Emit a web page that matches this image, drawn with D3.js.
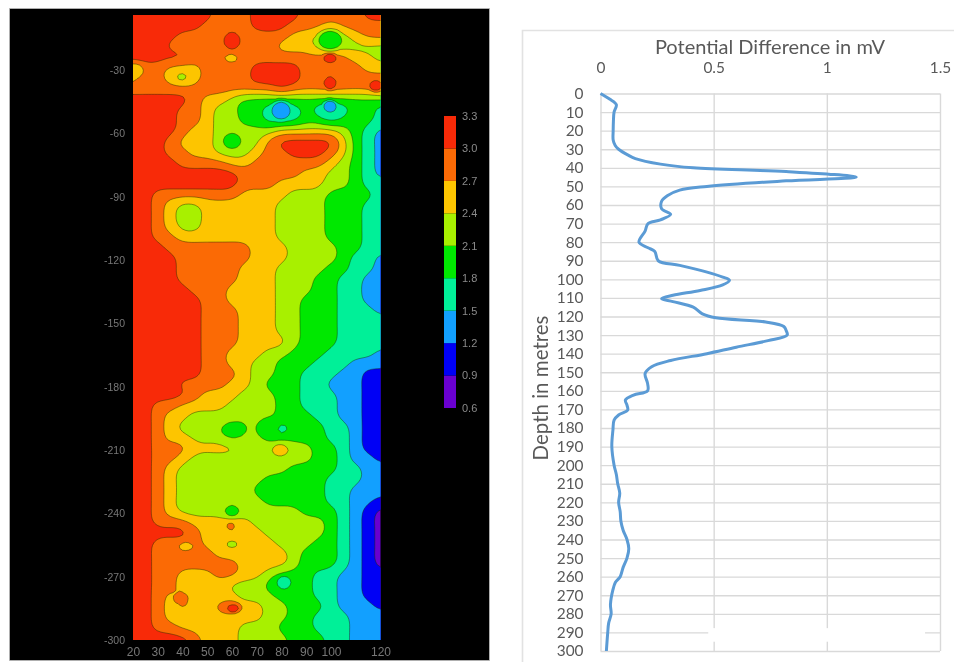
<!DOCTYPE html>
<html><head><meta charset="utf-8">
<script src="https://cdn.jsdelivr.net/npm/d3@7"></script>
<style>html,body{margin:0;background:#fff}svg{display:block;filter:blur(.55px)}</style>
</head><body><svg id="c" width="954" height="662"></svg>
<script>
// Contour map: legend bands and the band read at each (x = 20,25..120; depth = -4,-9,-14..) node
const levels = [0.6,0.9,1.2,1.5,1.8,2.1,2.4,2.7,3.0,3.3];
const bandColors = ["#6a00d0","#0000f5","#12a0ff","#00f098","#00e800","#a8f000","#fdc500","#fb6a05","#f82a08"];
const bandKeys = "PDBSGLYOR";
const bandRows = [
"RRRRRRROOORRRROOOOORR","RRRRRROOOORRROOOYOOOO","RRRROOOOROOOOYYLGLYOO","RRROOOOOROOOYYYLGLLLL",
"RRRRROOOYOOOOOOOROYYL","YOOYYYOOOORRRROOOOOYY","YOOYLYOOOORRRROOROOOO","OOOOOOOOOOOOROOOOOOOR",
"RRRRROYYLGGGGGGGGGGGG","RRRROOYLLGGSBSGSBSGGS","RRRROOYLLGGSSSGGSGGGS","RRRROYYLLLLLYYYYYLGSB",
"RRROYYYLGLLORRRRRYGSB","RRROOYYLLLYOORRROYGSB","RRRROOOOYYOOOOOOYLGSB","RRRRRRRRROOOOOYYLLGSB",
"RRRRRRRRROOOYYYYLLGSS","RROOOOOOOYYYYLLLGGGGS","RROYLLYYYYYYLLLLGGGSS","RROYLLYYYYYYLLLLGGGSS",
"RROYLLYYYYYYLLLLGGGSS","RROOYYYYYYYYLLLLGGGSS","RRROOOOOOOYYYLLLLGGSS","RRRROOOOOOYYYLLLLGSSB",
"RRRROOOOOYYYLLLLGGSSB","RRRROOOOOYYYLLLGGSSBB","RRRRROOOYYYYLLLGGSSBB","RRRRRROOYYYYLLGGGSSBB",
"RRRRRROOOYYYLLGGGSSSB","RRRRRROOOYYYLLGGGSSSS","RRRRRROOOYYYLLGGGSSSS","RRRRRROOOYYYYLGGGSSSS",
"RRRRRROOYYYLLGGGSSSSB","RRRRRROOYYLLGGGSSSBBB","RRRRRROOOYLLGGSSSBBDD","RRRROOOOYYLGGGSSBBBDD",
"RRRRROYYYLLLGGSSSBBDD","RROOYYYYLLLLGGSSSBBDD","RROYYLLLLLLLGGGSSBBDD","RROYLLLLGGLGSGGGSSBDD",
"RROYYLLLGLLGGGGGSSBDD","RROOOYYYYLLLYLLGGSBDD","RROOYLLLLLLLLLLGGSBBD","RROYLLLLLLLLLGGGGSSBB",
"RROYLLLLLLLGGGGGSSSBB","RROYLLLLLLGGGGGGSSBBB","RROYLLLLLLLGGGGGSSBBD","RROYLLLLGLLLLLGGGSBDP",
"RROOOYYYYYLLLLLLGSBDP","RRRRROYYOYYLLLLLGSBDP","RROOOOYYLYYYLLLGGSBDP","RROOYOOYYYYYYLGGGSBDP",
"RROOOOOOOYYYYLGGGSBDP","RROOYYYOOYYLGGGSSBBDD","RROOYYYYLLLGSGGSSBBDD","RROYOYYYYLLLGGGSSBBDD",
"RROYOYYYYYYLLGGGSBBBD","RROYYYYYYYYLLGGSSSBBB","RROOYYYYYLLLGGGSSSBBB","RRRRROYYYLLLLGGGSSBBB",
"RRRRROYYYLLLLGGGSSBBB"];
// Isolated closed anomalies on the map (centre in map units, band, half-extent in map units)
const spotX     = [60,59.6,99.6,99.6,99.6,118,39.8,79.8,99.6,60,75.4,80.2,60.4,79.4,60,59.6,60,41.4,81,59.2,60.4,39,20.5];
const spotDepth = [-16.3,-24.3,-15.8,-24.3,-36.6,-37.5,-33.3,-49,-47,-63.6,-199.7,-200,-200.6,-210,-239,-246,-254.6,-255.6,-272.6,-284.5,-285,-280,-30];
const spotBand  = ["R","Y","G","R","R","R","L","B","B","G","G","S","G","Y","G","O","L","Y","S","O","R","O","Y"];
const spotRX    = [2.6,2.2,4.6,2.6,2.2,2.4,1.4,3.6,2.6,3.3,5.2,1.5,4.2,3,2.6,1.4,1.5,2.6,2.6,5,2.2,2.2,3.5];
const spotRY    = [3.5,1.6,4.5,2,2.6,2.4,1.5,4.3,2.7,3.3,4.8,1.6,3,2.6,2.4,1.6,1.5,1.8,2.8,3.2,1.8,2,3];
const mapXTicks = [20,30,40,50,60,70,80,90,100,120];
const mapDepthTicks = [-30,-60,-90,-120,-150,-180,-210,-240,-270,-300];
const legendTicks = [3.3,3.0,2.7,2.4,2.1,1.8,1.5,1.2,0.9,0.6];

// Potential difference profile
const depth = [0,3,6,10,15,20,25,28,30,33,35,38,40,42,45,47,50,52,55,58,62,65,68,70,74,80,83,85,90,92.5,96,98.8,100.5,103,106,108.6,110.4,112,115,118.6,120.7,123,125.4,127.5,130,133,136.5,140,143.7,147,150.7,156,160,162.3,165,167.7,170.4,173,175.8,181,190,200,205,210,215,220,225,230,235,240,245,250,255,260,263,267,275,280,285,290,300];
const potential = [0,.04,.07,.06,.057,.056,.056,.065,.08,.12,.154,.265,.41,.82,1.13,.82,.47,.35,.295,.27,.27,.31,.265,.21,.197,.17,.21,.24,.255,.35,.467,.54,.57,.54,.44,.32,.27,.32,.41,.45,.51,.73,.81,.82,.825,.74,.6,.47,.31,.226,.197,.208,.208,.146,.11,.117,.12,.08,.06,.055,.05,.06,.07,.076,.085,.08,.087,.09,.10,.117,.125,.117,.10,.087,.066,.055,.044,.047,.036,.032,.026];
const xTicks = [0,0.5,1,1.5];
const yTicks = d3.range(0,301,10);

const svg = d3.select("#c");
svg.append("rect").attr("width",954).attr("height",662).attr("fill","#fff");

// ---- left panel
svg.append("rect").attr("x",9.5).attr("y",8.5).attr("width",480).attr("height",652).attr("fill","#000").attr("stroke","#bbb").attr("stroke-width",.8);
const mx = d3.scaleLinear([20,120],[133,380.5]);
const my = d3.scaleLinear([0,-300],[6.7,640]);
const k = 4, nr = bandRows.length, nc = bandRows[0].length;
const bandValue = ch => (levels[bandKeys.indexOf(ch)] + levels[bandKeys.indexOf(ch)+1]) / 2;
const grid = bandRows.map(r => Array.from(r, bandValue));
const cr = (a,b,c,d,t) => .5*((2*b)+(c-a)*t+(2*a-5*b+4*c-d)*t*t+(3*b-a-3*c+d)*t*t*t);
const at = (r,c) => grid[Math.max(0,Math.min(nr-1,r))][Math.max(0,Math.min(nc-1,c))];
const W = (nc-1)*k+1, H = (nr-1)*k+1, field = new Float64Array(W*H);
for (let j=0;j<H;j++) for (let i=0;i<W;i++) {
  const rf=j/k, cf=i/k, r0=Math.floor(rf), c0=Math.floor(cf), tr=rf-r0, tc=cf-c0;
  const col = [-1,0,1,2].map(d => cr(at(r0+d,c0-1),at(r0+d,c0),at(r0+d,c0+1),at(r0+d,c0+2),tc));
  field[j*W+i] = cr(col[0],col[1],col[2],col[3],tr);
}
d3.blur2({data:field,width:W},1.5);
spotX.forEach((sx,s)=>{
  const lvl = bandValue(spotBand[s]);
  for (let j=0;j<H;j++) for (let i=0;i<W;i++) {
    const ux = 20+i/k*5, ud = -4-j/k*5;
    const dist = Math.hypot((ux-sx)/spotRX[s],(ud-spotDepth[s])/spotRY[s]);
    const w = Math.max(0,Math.min(1,(1.3-dist)/.6));
    if (w>0) field[j*W+i] += (lvl-field[j*W+i])*w;
  }
});
const contourSets = d3.contours().size([W,H]).thresholds(levels.slice(0,-1))(field);
const proj = d3.geoTransform({point(x,y){
  this.stream.point(mx(20+(x-.5)/k*5), my(-4-(y-.5)/k*5));
}});
svg.append("clipPath").attr("id","plot").append("rect")
  .attr("x",mx(20)).attr("y",my(-3.9)).attr("width",mx(120)-mx(20)).attr("height",my(-300)-my(-3.9));
const mapG = svg.append("g").attr("clip-path","url(#plot)");
mapG.selectAll("path").data(contourSets).join("path")
  .attr("d",d3.geoPath(proj)).attr("fill",(d,i)=>bandColors[i])
  .attr("stroke","#1a2a00").attr("stroke-opacity",.55).attr("stroke-width",.8);

const axM = svg.append("g").attr("transform",`translate(0,${my(-300)})`)
  .call(d3.axisBottom(mx).tickValues(mapXTicks).tickSize(0).tickPadding(7).tickFormat(d=>d));
const ayM = svg.append("g").attr("transform",`translate(${mx(20)},0)`)
  .call(d3.axisLeft(my).tickValues(mapDepthTicks).tickSize(0).tickPadding(8).tickFormat(d=>d));
[axM,ayM].forEach(a=>{a.select(".domain").remove();
  a.selectAll("text").attr("fill","#777").attr("font-family","Liberation Sans");});
axM.selectAll("text").attr("font-size",12);
ayM.selectAll("text").attr("font-size",10.5);

// legend
const ly = d3.scaleLinear([0.6,3.3],[408,116]);
const lg = svg.append("g");
lg.selectAll("rect").data(bandColors).join("rect")
  .attr("x",444).attr("width",12).attr("y",(d,i)=>ly(levels[i+1])).attr("height",(d,i)=>ly(levels[i])-ly(levels[i+1]))
  .attr("fill",d=>d);
lg.selectAll("text").data(legendTicks).join("text")
  .attr("x",462).attr("y",d=>ly(d)).attr("dy","0.35em").attr("fill","#8a8a8a")
  .attr("font-family","Liberation Sans").attr("font-size",11).text(d=>d.toFixed(1));

// ---- right panel
svg.append("path").attr("d","M522.5,662V30.5H954").attr("fill","none").attr("stroke","#e2e2e2").attr("stroke-width",1.6);
const x = d3.scaleLinear([0,1.5],[600.5,940]);
const y = d3.scaleLinear([0,300],[93.5,651]);
const gridC = "#d9d9d9", txt = "#595959", font = "Lato";
const ax = svg.append("g").attr("transform",`translate(0,${y(0)})`)
  .call(d3.axisTop(x).tickValues(xTicks).tickSize(-(y(300)-y(0))).tickPadding(21).tickFormat(d=>d));
const ay = svg.append("g").attr("transform",`translate(${x(0)},0)`)
  .call(d3.axisLeft(y).tickValues(yTicks).tickSize(-(x(1.5)-x(0))).tickPadding(17).tickFormat(d=>d));
[ax,ay].forEach(a=>{a.select(".domain").remove();
  a.selectAll("line").attr("stroke",gridC).attr("stroke-width",1.4);
  a.selectAll("text").attr("fill",txt).attr("font-family",font).attr("font-size",15.4);});
// pale patch across the lower gridlines, present in the source
svg.append("rect").attr("x",x(.476)).attr("width",x(1.434)-x(.476)).attr("y",y(287.7)).attr("height",y(295)-y(287.7)).attr("fill","#fff");
const line = d3.line().x((d,i)=>x(potential[i])).y(d=>y(d)).curve(d3.curveCatmullRom.alpha(.5));
svg.append("path").datum(depth).attr("d",line).attr("fill","none").attr("stroke","#5b9bd5").attr("stroke-width",3).attr("stroke-linejoin","round");
svg.append("text").attr("x",770).attr("y",54).attr("text-anchor","middle").attr("fill",txt).attr("font-family",font).attr("font-size",20).text("Potential Difference in mV");
svg.append("text").attr("transform","translate(548,388) rotate(-90)").attr("text-anchor","middle").attr("fill",txt).attr("font-family",font).attr("font-size",20.5).text("Depth in metres");
</script></body></html>
